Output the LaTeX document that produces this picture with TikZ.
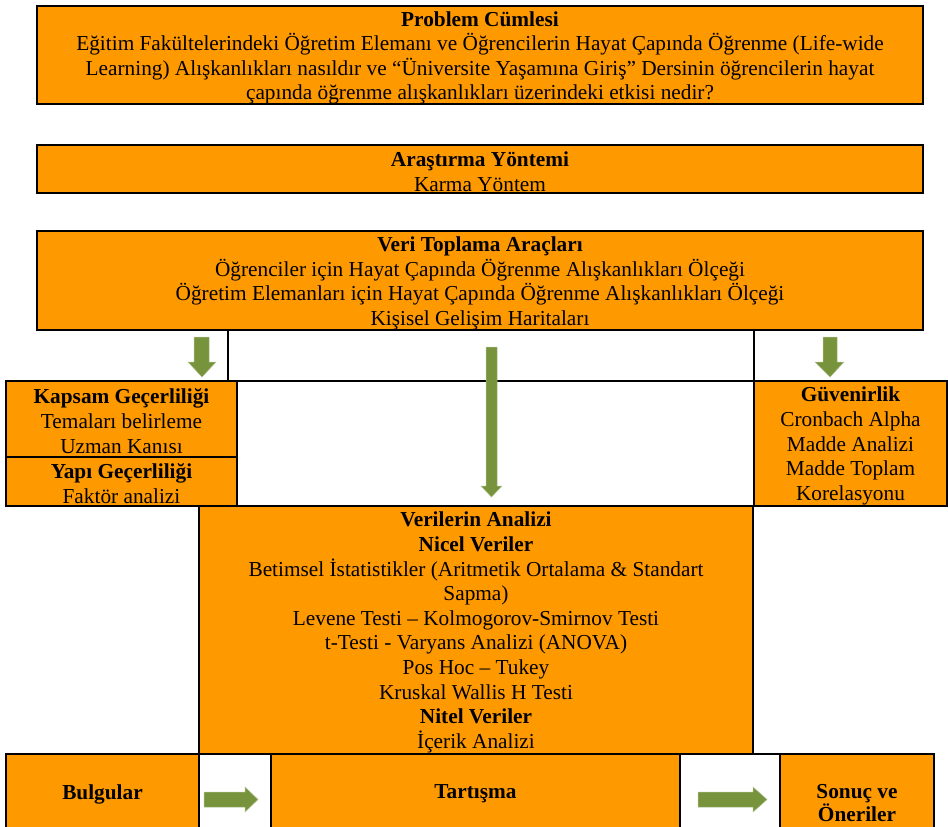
\documentclass[tikz,border=0pt]{standalone}
\usepackage{fontspec}
\setmainfont{Liberation Serif}
\definecolor{boxorange}{RGB}{255,153,0}
\definecolor{arrowgreen}{RGB}{119,147,60}
\begin{document}
\begin{tikzpicture}[x=1pt,y=-1pt,
  box/.style={draw=black, line width=1.5pt, fill=boxorange},
  txt/.style={align=center, inner sep=0pt, font=\fontsize{21.3}{24.6}\selectfont},
  rule/.style={draw=black, line width=1.5pt},
  garrow/.style={fill=arrowgreen, draw=arrowgreen!60!white, line width=0.5pt}]
\useasboundingbox (0,0) rectangle (948,827);
\clip (0,0) rectangle (948,827);
% boxes
\path[box] (37,6) rectangle (923,104);
\path[box] (37,145) rectangle (923,193);
\path[box] (37,231) rectangle (923,330);
\path[box] (6,381) rectangle (237,457);
\path[box] (6,457) rectangle (237,506);
\path[box] (754,381) rectangle (947,506);
\path[box] (199,506) rectangle (753,754);
\path[box] (6,754) rectangle (199,845);
\path[box] (271,754) rectangle (680,845);
\path[box] (780,754) rectangle (934,845);
% table rules
\draw[rule] (228,330) -- (228,381);
\draw[rule] (754,330) -- (754,381);
\draw[rule] (6,381) -- (947,381);
\draw[rule] (6,506) -- (947,506);
\draw[rule] (6,754) -- (934,754);
\draw[rule] (199,754) -- (199,845);
\draw[rule] (271,754) -- (271,845);
\draw[rule] (680,754) -- (680,845);
\draw[rule] (780,754) -- (780,845);
% texts
\node[txt] (prob) at (480,58) {\textbf{Problem Cümlesi}\\Eğitim Fakültelerindeki Öğretim Elemanı ve Öğrencilerin Hayat Çapında Öğrenme (Life-wide\\Learning) Alışkanlıkları nasıldır ve “Üniversite Yaşamına Giriş” Dersinin öğrencilerin hayat\\çapında öğrenme alışkanlıkları üzerindeki etkisi nedir?};
\node[txt] (yontem) at (480,172) {\textbf{Araştırma Yöntemi}\\Karma Yöntem};
\node[txt] (veri) at (480,283.5) {\textbf{Veri Toplama Araçları}\\Öğrenciler için Hayat Çapında Öğrenme Alışkanlıkları Ölçeği\\Öğretim Elemanları için Hayat Çapında Öğrenme Alışkanlıkları Ölçeği\\Kişisel Gelişim Haritaları};
\node[txt] (kapsam) at (121.5,421) {\textbf{Kapsam Geçerliliği}\\Temaları belirleme\\Uzman Kanısı};
\node[txt] (yapi) at (121.5,483.5) {\textbf{Yapı Geçerliliği}\\Faktör analizi};
\node[txt] (guven) at (850.5,446) {\textbf{Güvenirlik}\\Cronbach Alpha\\Madde Analizi\\Madde Toplam\\Korelasyonu};
\node[txt] (analiz) at (476,632.5) {\textbf{Verilerin Analizi}\\\textbf{Nicel Veriler}\\Betimsel İstatistikler (Aritmetik Ortalama \& Standart\\Sapma)\\Levene Testi – Kolmogorov-Smirnov Testi\\t-Testi - Varyans Analizi (ANOVA)\\Pos Hoc – Tukey\\Kruskal Wallis H Testi\\\textbf{Nitel Veriler}\\İçerik Analizi};
\node[txt] (bulgu) at (102.5,794) {\textbf{Bulgular}};
\node[txt] (tart) at (475.5,794) {\textbf{Tartışma}};
\node[txt, font=\fontsize{21.3}{23.5}\selectfont] (sonuc) at (857,803) {\textbf{Sonuç ve}\\\textbf{Öneriler}};
% arrows
\path[garrow] (194,337) -- (209,337) -- (209,362) -- (216,362) -- (202,377) -- (188,362) -- (194,362) -- cycle;
\path[garrow] (823,337) -- (837,337) -- (837,362) -- (844,362) -- (830,377) -- (815,362) -- (823,362) -- cycle;
\path[garrow] (486,347) -- (497,347) -- (497,486) -- (502,486) -- (491.5,497) -- (481,486) -- (486,486) -- cycle;
\path[garrow] (204,792) -- (245,792) -- (245,787) -- (258,799.5) -- (245,812) -- (245,807) -- (204,807) -- cycle;
\path[garrow] (698,792) -- (753,792) -- (753,787) -- (767,799.5) -- (753,812) -- (753,807) -- (698,807) -- cycle;
\end{tikzpicture}
\end{document}
